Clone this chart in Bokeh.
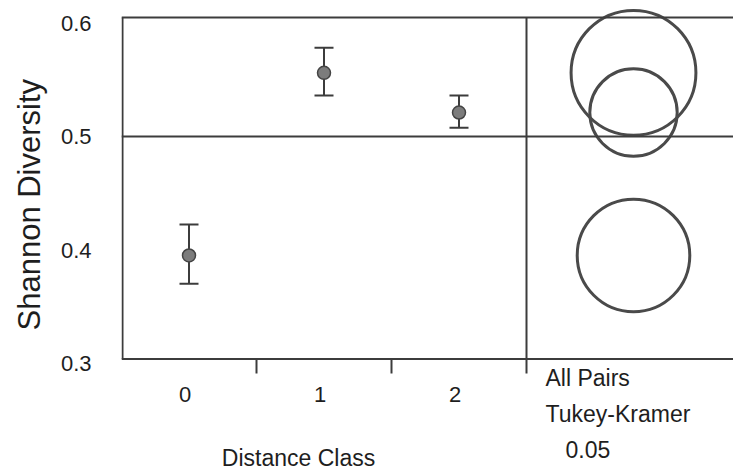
import math
from bokeh.plotting import figure
from bokeh.models import Range1d, FixedTicker, Span, ColumnDataSource, Whisker, TeeHead, Title
from bokeh.core.properties import value
from bokeh.embed import file_html
from bokeh.resources import INLINE

# ---- data ----
categories = ["0", "1", "2"]
cat_pos = [0, 1, 2]
means = [0.3952, 0.5561, 0.5211]
upper = [0.4225, 0.5781, 0.5361]
lower = [0.3702, 0.5361, 0.5077]
circle_radius = [0.0496, 0.0550, 0.0385]   # comparison-circle radii (y units)
grand_mean = 0.5
y_ticks = [0.3, 0.4, 0.5, 0.6]
panel_texts = ["All Pairs", "Tukey-Kramer", "0.05"]
x_title = "Distance Class"
y_title = "Shannon Diversity"

# ---- layout constants (pixels of the 733x471 canvas) ----
W, H = 733, 471
FL, FT, FB = 121, 4, 471          # frame left / top / bottom
PX_PER_Y = 1135.0                 # pixels per y unit
Y_AT_136 = 0.5                    # value at pixel row 136
X0 = -0.5
PX_PER_X = 135.0
X1 = X0 + (W - FL) / PX_PER_X
TXT_SHIFT = 8                     # baseline correction for text glyphs

def px_x(px):
    return X0 + (px - FL) / PX_PER_X

def px_y(py):
    return Y_AT_136 - (py - 136) / PX_PER_Y

def txt_y(py):
    return px_y(py - TXT_SHIFT)

Y0, Y1 = px_y(FB), px_y(FT)
Y_TOP_BORDER = px_y(17)
Y_BOTTOM_BORDER = px_y(358.5)
Y_TICK_END = px_y(373)
DIVIDER_X = 2.5
CIRCLE_X = px_x(633)

LINE = "#3c3c3c"
TXT = "#1e1e1e"
FONT = "Liberation Sans"

p = figure(width=W, height=H, output_backend="svg", toolbar_location=None,
           x_range=Range1d(X0, X1), y_range=Range1d(Y0, Y1),
           x_axis_location=None,
           min_border_left=FL, min_border_top=FT, min_border_right=0,
           min_border_bottom=0)
p.outline_line_color = None
p.grid.grid_line_color = None
p.background_fill_color = "white"
p.border_fill_color = "white"

# y axis
p.yaxis.ticker = FixedTicker(ticks=y_ticks)
p.yaxis.axis_line_color = None
p.yaxis.major_tick_line_color = None
p.yaxis.minor_tick_line_color = None
p.yaxis.major_label_standoff = 24
p.yaxis.major_label_text_font = FONT
p.yaxis.major_label_text_font_size = "22px"
p.yaxis.major_label_text_color = TXT

# y title, starting 141 px above the frame bottom (text starts at y=330)
p.add_layout(Title(text=y_title, align="left", offset=FB - 330, standoff=18,
                   vertical_align="top",
                   text_font=FONT, text_font_size="31px",
                   text_font_style="normal", text_color=TXT), "left")

# frame lines
for yv in (Y_TOP_BORDER, grand_mean, Y_BOTTOM_BORDER):
    p.add_layout(Span(location=yv, dimension="width", line_color=LINE, line_width=2))
p.segment(x0=[X0 + 1.0 / PX_PER_X], y0=[Y_BOTTOM_BORDER],
          x1=[X0 + 1.0 / PX_PER_X], y1=[Y_TOP_BORDER],
          line_color=LINE, line_width=2)
p.segment(x0=[DIVIDER_X], y0=[Y_TICK_END], x1=[DIVIDER_X], y1=[Y_TOP_BORDER],
          line_color=LINE, line_width=2)
# x ticks between categories
bounds_x = [c + 0.5 for c in cat_pos[:-1]]
p.segment(x0=bounds_x, y0=[Y_BOTTOM_BORDER] * len(bounds_x),
          x1=bounds_x, y1=[Y_TICK_END] * len(bounds_x),
          line_color=LINE, line_width=2)
# x tick labels
p.text(x=cat_pos, y=[txt_y(402)] * 3, text=categories, x_offset=-4,
       text_align="center", text_baseline="alphabetic",
       text_font=value(FONT), text_font_size="22px", text_color=TXT)

# means with error bars
src = ColumnDataSource(dict(x=cat_pos, mean=means, upper=upper, lower=lower,
                            cx=[CIRCLE_X] * 3, r=circle_radius))
p.add_layout(Whisker(base="x", upper="upper", lower="lower", source=src,
                     line_color=LINE, line_width=2,
                     upper_head=TeeHead(size=19, line_color=LINE, line_width=2),
                     lower_head=TeeHead(size=19, line_color=LINE, line_width=2)))
p.scatter(x="x", y="mean", source=src, size=13, fill_color="#7c7c7c",
          line_color="#444444", line_width=1.5)

# comparison circles
p.circle(x="cx", y="mean", radius="r", radius_dimension="y", source=src,
         fill_color=None, line_color="#4a4a4a", line_width=3)

# texts
p.text(x=[px_x(298)], y=[txt_y(465)], text=[x_title],
       text_align="center", text_baseline="alphabetic",
       text_font=value(FONT), text_font_size="23px", text_color=TXT)
p.text(x=[px_x(545), px_x(545), px_x(565)],
       y=[txt_y(385), txt_y(421.7), txt_y(456.7)], text=panel_texts,
       text_align="left", text_baseline="alphabetic",
       text_font=value(FONT), text_font_size="23px", text_color=TXT)

open("out.html", "w").write(file_html(p, INLINE))
